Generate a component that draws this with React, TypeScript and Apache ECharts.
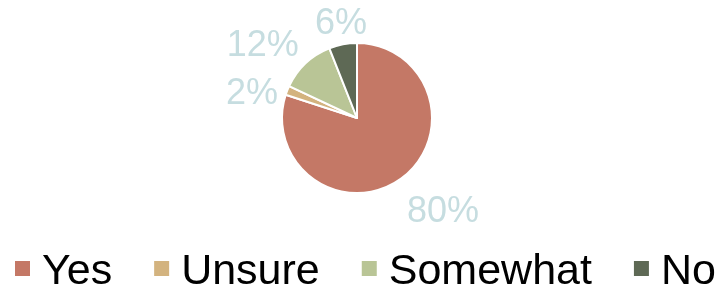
import React, { useEffect, useRef } from "react";
import * as echarts from "echarts";

const categories = ["Yes", "Unsure", "Somewhat", "No"];
const values = [80, 2, 12, 6];
const colors = ["#c47866", "#d3b37f", "#b9c596", "#5e6955"];

const CENTER = [357, 118];
const RADIUS = 75;
const LABEL_OFFSET = 10;
const LABEL_DY = 5;

export default function App() {
  const ref = useRef<HTMLDivElement>(null);
  useEffect(() => {
    if (!ref.current) return;
    const chart = echarts.init(ref.current, null, { renderer: "svg" });
    const total = values.reduce((a, b) => a + b, 0);
    const midAngles: number[] = [];
    let acc = 0;
    values.forEach((v) => {
      midAngles.push(((acc + v / 2) / total) * 360);
      acc += v;
    });
    chart.setOption({
      animation: false,
      color: colors,
      legend: {
        data: categories,
        left: 13,
        top: 247,
        width: 705,
        padding: 0,
        icon: "rect",
        itemWidth: 17,
        itemHeight: 17,
        itemGap: 40,
        textStyle: {
          fontSize: 43,
          fontFamily: "Liberation Sans",
          color: "#000",
          padding: [0, 0, 0, 6],
        },
      },
      series: [
        {
          type: "pie",
          center: CENTER,
          radius: RADIUS,
          startAngle: 90,
          clockwise: true,
          itemStyle: { borderColor: "#fff", borderWidth: 2 },
          label: {
            show: true,
            position: "outside",
            formatter: (p: any) => `${p.value}%`,
            fontSize: 36,
            fontFamily: "Liberation Sans",
            color: "#c6dde0",
          },
          labelLine: { show: false, length: 6, length2: 0 },
          labelLayout: (p: any) => {
            const compass = midAngles[p.dataIndex];
            const rad = (compass * Math.PI) / 180;
            const R = RADIUS + LABEL_OFFSET;
            const x = CENTER[0] + Math.sin(rad) * R;
            const y = CENTER[1] - Math.cos(rad) * R + LABEL_DY;
            // math angle, counter-clockwise from 3 o'clock
            let m = (90 - compass) % 360;
            if (m < 0) m += 360;
            let align = "center";
            let verticalAlign = "middle";
            if (m <= 22.5 || m > 337.5) { align = "left"; verticalAlign = "middle"; }
            else if (m < 67.5) { align = "left"; verticalAlign = "bottom"; }
            else if (m < 112.5) { align = "center"; verticalAlign = "bottom"; }
            else if (m <= 157.5) { align = "right"; verticalAlign = "bottom"; }
            else if (m <= 202.5) { align = "right"; verticalAlign = "middle"; }
            else if (m < 247.5) { align = "right"; verticalAlign = "top"; }
            else if (m < 292.5) { align = "center"; verticalAlign = "top"; }
            else { align = "left"; verticalAlign = "top"; }
            return { x, y, align, verticalAlign };
          },
          data: categories.map((c, i) => ({ name: c, value: values[i] })),
        },
      ],
    });
    return () => chart.dispose();
  }, []);
  return (
    <div
      ref={ref}
      style={{ position: "fixed", left: 0, top: 0, width: 718, height: 291 }}
    />
  );
}
